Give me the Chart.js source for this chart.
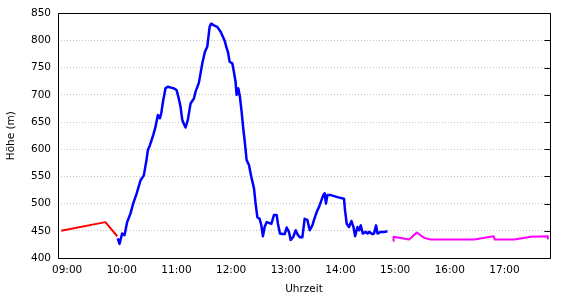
<!DOCTYPE html>
<html>
<head>
<meta charset="utf-8">
<script src="https://cdn.jsdelivr.net/npm/chart.js@4/dist/chart.umd.min.js"></script>
<style>
  html, body { margin: 0; padding: 0; background: #fff; }
  #wrap { width: 570px; height: 300px; }
</style>
</head>
<body>
<div id="wrap"><canvas id="hoehe"></canvas></div>
<script>
// times in minutes since midnight, heights in m
const redTime = [533.5, 582, 595];
const redAlt  = [450, 466, 440];

const blueTime = [
  595.6, 597.5, 600.4, 603, 605.9, 609.6, 612.5, 616.2, 620.6, 624.2,
  627.1, 628.6, 630.8, 634.5, 637, 639.6, 641.8, 643.3, 645.5, 648,
  650.5, 657.1, 660.1, 662.6, 664.5, 666.4, 668.1, 670, 672.5, 675.5,
  679.1, 681, 684.6, 686.5, 688.4, 691.2, 693.9, 696.4, 698.2, 701.1,
  704.8, 708.5, 711, 713.2, 714.7, 716.5, 718.4, 721.3, 723.1, 724.9,
  726, 727.9, 729.7, 731.5, 733.4, 734.8, 737, 739.6, 742.2, 745.1,
  746.9, 748.8, 751.3, 753.2, 754.9, 756.8, 759, 762.6, 764.2, 767,
  770, 771.4, 773.6, 776.3, 778.8, 781, 783.5, 785.4, 788.3, 790.9,
  793.4, 795.6, 798.2, 800.7, 803.7, 806.3, 809.2, 811, 814, 816.5,
  819.1, 821.3, 822.7, 824.1, 825.7, 828.5, 836.7, 843.9, 845, 846.9,
  849.4, 852.1, 854.3, 856.1, 858.7, 860.5, 862.3, 864.5, 867.8, 869.7,
  871.4, 875.2, 876.9, 879.1, 880.7, 884.3, 887.9, 891.6
];
const blueAlt = [
  436, 426, 445, 442, 466, 482, 500, 518, 543, 552,
  580, 598, 607, 626, 641, 663, 657, 666, 690, 712,
  715, 712, 709, 693, 678, 654, 647, 640, 654, 684,
  693, 706, 722, 740, 758, 779, 789, 825, 831, 828,
  825, 816, 807, 798, 788, 779, 761, 758, 742, 724,
  700, 712, 696, 669, 637, 617, 580, 571, 549, 528,
  500, 475, 472, 460, 440, 457, 466, 464, 463, 479,
  479, 463, 445, 444, 444, 456, 448, 433, 439, 451,
  442, 438, 438, 472, 470, 451, 460, 470, 485, 494,
  506, 516, 519, 500, 516, 516, 512, 509, 488, 463,
  457, 468, 457, 440, 457, 451, 460, 445, 448, 445,
  448, 444, 445, 460, 445, 448, 448, 449
];

const pinkTime = [898.2, 898.3, 915.4, 923.8, 931.9, 939.2, 957.6, 986.8, 1008.1, 1009.5, 1030.8, 1049.1, 1067.5, 1067.6];
const pinkAlt  = [431, 439, 434, 447, 437, 434, 434, 434, 440, 434, 434, 439, 440, 436];

const xTickLabels = ['09:00', '10:00', '11:00', '12:00', '13:00', '14:00', '15:00', '16:00', '17:00'];
const yTickLabels = [400, 450, 500, 550, 600, 650, 700, 750, 800, 850];

function toMin(s) { const p = s.split(':'); return +p[0] * 60 + +p[1]; }
function fmt(m) {
  const h = Math.floor(m / 60), mm = Math.round(m - h * 60);
  return String(h).padStart(2, '0') + ':' + String(mm).padStart(2, '0');
}
function pts(t, a) { return t.map((v, i) => ({ x: v, y: a[i] })); }

const font = { family: 'DejaVu Sans', size: 10.5 };

// frame and inward ticks, gnuplot style
const frame = {
  id: 'frame',
  afterDraw(chart) {
    const { ctx, chartArea: a, scales: { x, y } } = chart;
    ctx.save();
    ctx.strokeStyle = '#000';
    ctx.lineWidth = 1;
    ctx.beginPath();
    const L = Math.round(a.left) + 0.5, R = Math.round(a.right) + 0.5;
    const T = Math.round(a.top) + 0.5, B = Math.round(a.bottom) + 0.5;
    ctx.rect(L, T, R - L, B - T);
    for (let m = x.min; m <= x.max; m += 30) {
      if (m % 30 !== 0) continue;
      const px = Math.round(x.getPixelForValue(m)) + 0.5;
      const len = m % 60 === 0 ? 5 : 3;
      ctx.moveTo(px, T); ctx.lineTo(px, T + len);
      ctx.moveTo(px, B); ctx.lineTo(px, B - len);
    }
    yTickLabels.forEach(v => {
      const py = Math.round(y.getPixelForValue(v)) + 0.5;
      ctx.moveTo(R, py); ctx.lineTo(R - 6, py);
    });
    ctx.stroke();
    ctx.restore();
  }
};

const lineStyle = { fill: false, tension: 0, pointRadius: 0, borderJoinStyle: 'round' };

new Chart(document.getElementById('hoehe'), {
  type: 'line',
  data: {
    datasets: [
      Object.assign({ data: pts(redTime, redAlt), borderColor: '#ff0000', borderWidth: 2 }, lineStyle),
      Object.assign({ data: pts(blueTime, blueAlt), borderColor: '#0000ff', borderWidth: 2.5 }, lineStyle),
      Object.assign({ data: pts(pinkTime, pinkAlt), borderColor: '#ff00ff', borderWidth: 2 }, lineStyle)
    ]
  },
  options: {
    responsive: true,
    maintainAspectRatio: false,
    animation: false,
    layout: { padding: { top: 13, right: 20, bottom: 0, left: 0 } },
    plugins: { legend: { display: false }, tooltip: { enabled: false } },
    scales: {
      x: {
        type: 'linear',
        min: 530,
        max: 1070,
        afterBuildTicks: s => { s.ticks = xTickLabels.map(l => ({ value: toMin(l) })); },
        afterFit: s => { s.height = 42; },
        grid: { display: false, drawTicks: false },
        border: { display: false },
        ticks: { font: font, color: '#000', padding: 6, maxRotation: 0, autoSkip: false, callback: v => fmt(v) },
        title: { display: true, text: 'Uhrzeit', font: font, color: '#000', padding: { top: 0, bottom: 4 } }
      },
      y: {
        min: 400,
        max: 850,
        afterBuildTicks: s => { s.ticks = yTickLabels.map(v => ({ value: v })); },
        afterFit: s => { s.width = 58; },
        grid: { color: '#c4c4c4', drawTicks: false, lineWidth: 1 },
        border: { display: false, dash: [1, 2] },
        ticks: { font: font, color: '#000', padding: 7 },
        title: { display: true, text: 'Höhe (m)', font: font, color: '#000', padding: { top: 5, bottom: 0 } }
      }
    }
  },
  plugins: [frame]
});
</script>
</body>
</html>
